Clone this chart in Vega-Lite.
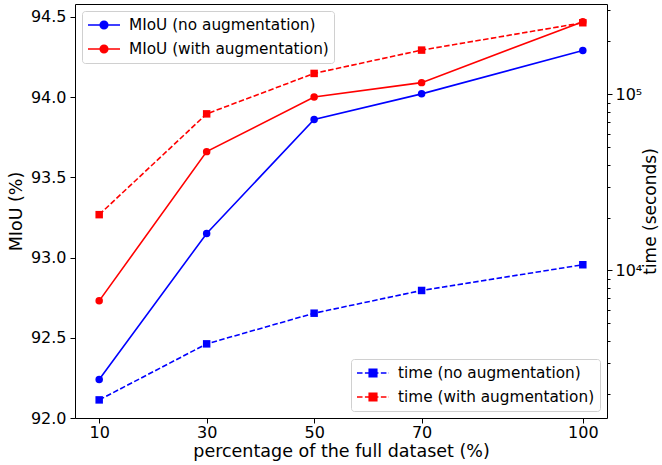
{
  "$schema": "https://vega.github.io/schema/vega-lite/v6.json",
  "width": 532,
  "height": 414,
  "autosize": {"type": "none"},
  "padding": {"left": 75, "top": 4, "right": 55, "bottom": 47},
  "background": "white",
  "config": {
    "view": {"stroke": "black", "strokeWidth": 1},
    "font": "DejaVu Sans",
    "axis": {
      "labelFont": "DejaVu Sans",
      "titleFont": "DejaVu Sans",
      "labelColor": "black",
      "titleColor": "black",
      "tickColor": "black",
      "domain": false,
      "grid": false,
      "labelFontSize": 16,
      "titleFontSize": 17.5,
      "titleFontWeight": "normal",
      "tickSize": 5,
      "tickWidth": 1
    },
    "legend": {"labelFont": "DejaVu Sans", "labelFontSize": 15.3, "labelColor": "black", "labelLimit": 400}
  },
  "datasets": {
    "miou": [
      {"pct": 10, "series": "MIoU (no augmentation)", "miou": 92.24},
      {"pct": 30, "series": "MIoU (no augmentation)", "miou": 93.15},
      {"pct": 50, "series": "MIoU (no augmentation)", "miou": 93.86},
      {"pct": 70, "series": "MIoU (no augmentation)", "miou": 94.02},
      {"pct": 100, "series": "MIoU (no augmentation)", "miou": 94.29},
      {"pct": 10, "series": "MIoU (with augmentation)", "miou": 92.73},
      {"pct": 30, "series": "MIoU (with augmentation)", "miou": 93.66},
      {"pct": 50, "series": "MIoU (with augmentation)", "miou": 94.0},
      {"pct": 70, "series": "MIoU (with augmentation)", "miou": 94.09},
      {"pct": 100, "series": "MIoU (with augmentation)", "miou": 94.47}
    ],
    "time": [
      {"pct": 10, "series": "time (no augmentation)", "seconds": 1840},
      {"pct": 30, "series": "time (no augmentation)", "seconds": 3830},
      {"pct": 50, "series": "time (no augmentation)", "seconds": 5720},
      {"pct": 70, "series": "time (no augmentation)", "seconds": 7700},
      {"pct": 100, "series": "time (no augmentation)", "seconds": 10780},
      {"pct": 10, "series": "time (with augmentation)", "seconds": 20760},
      {"pct": 30, "series": "time (with augmentation)", "seconds": 77600},
      {"pct": 50, "series": "time (with augmentation)", "seconds": 131700},
      {"pct": 70, "series": "time (with augmentation)", "seconds": 178700},
      {"pct": 100, "series": "time (with augmentation)", "seconds": 255600}
    ]
  },
  "layer": [
    {
      "data": {"name": "miou"},
      "mark": {"type": "line", "strokeWidth": 1.6, "point": {"filled": true, "size": 56, "shape": "circle", "opacity": 1}},
      "encoding": {
        "x": {
          "field": "pct", "type": "quantitative",
          "scale": {"domain": [5.5, 104.5], "nice": false, "zero": false},
          "axis": {"values": [10, 30, 50, 70, 100], "title": "percentage of the full dataset (%)", "labelPadding": 1, "titlePadding": 2}
        },
        "y": {
          "field": "miou", "type": "quantitative",
          "scale": {"domain": [92.0, 94.58], "nice": false, "zero": false},
          "axis": {"orient": "left", "values": [92, 92.5, 93, 93.5, 94, 94.5], "format": ".1f", "title": "MIoU (%)", "labelPadding": 4, "titlePadding": 5}
        },
        "color": {
          "field": "series", "type": "nominal",
          "scale": {"domain": ["MIoU (no augmentation)", "MIoU (with augmentation)"], "range": ["blue", "red"]},
          "legend": {
            "title": null,
            "orient": "top-left",
            "offset": 7,
            "symbolType": "M-2,0H2M0.47,0A0.47,0.47 0 1,1 -0.47,0A0.47,0.47 0 1,1 0.47,0Z",
            "symbolSize": 256,
            "symbolStrokeWidth": 1.6,
            "symbolOffset": 8,
            "labelOffset": 16,
            "padding": 5,
            "rowPadding": 6,
            "fillColor": "white",
            "strokeColor": "#d0d0d0",
            "cornerRadius": 3,
            "encode": {
              "symbols": {
                "update": {
                  "fill": {"signal": "indexof(datum.value, '(no') >= 0 ? 'blue' : 'red'"},
                  "stroke": {"signal": "indexof(datum.value, '(no') >= 0 ? 'blue' : 'red'"},
                  "opacity": {"value": 1}
                }
              }
            }
          }
        }
      }
    },
    {
      "data": {"name": "time"},
      "mark": {"type": "line", "strokeWidth": 1.6, "strokeDash": [5.5, 2.4], "point": {"filled": true, "size": 56, "shape": "square", "opacity": 1}},
      "encoding": {
        "x": {"field": "pct", "type": "quantitative"},
        "y": {
          "field": "seconds", "type": "quantitative",
          "scale": {"type": "log", "domain": [1452, 326600], "nice": false, "zero": false},
          "axis": {
            "orient": "right",
            "values": [2000, 3000, 4000, 5000, 6000, 7000, 8000, 9000, 10000, 20000, 30000, 40000, 50000, 60000, 70000, 80000, 90000, 100000, 200000, 300000],
            "labelExpr": "datum.value == 10000 ? '10⁴' : datum.value == 100000 ? '10⁵' : ''",
            "tickSize": {"condition": {"test": "datum.value == 10000 || datum.value == 100000", "value": 5}, "value": 3},
            "labelPadding": 3,
            "title": "time (seconds)",
            "titleAngle": 270,
            "titleBaseline": "top",
            "titleFontSize": 17,
            "titlePadding": 1
          }
        },
        "color": {
          "field": "series", "type": "nominal",
          "scale": {"domain": ["time (no augmentation)", "time (with augmentation)"], "range": ["blue", "red"]},
          "legend": {
            "title": null,
            "orient": "bottom-right",
            "offset": 7,
            "symbolType": "M-2,0H-1.31M-1.01,0H-0.31M-0.01,0H0.68M0.98,0H1.68M1.97,0H2M-0.47,-0.47H0.47V0.47H-0.47Z",
            "symbolSize": 256,
            "symbolStrokeWidth": 1.6,
            "symbolOffset": 8,
            "labelOffset": 16,
            "padding": 5,
            "rowPadding": 6,
            "fillColor": "white",
            "strokeColor": "#d0d0d0",
            "cornerRadius": 3,
            "encode": {
              "symbols": {
                "update": {
                  "fill": {"signal": "indexof(datum.value, '(no') >= 0 ? 'blue' : 'red'"},
                  "stroke": {"signal": "indexof(datum.value, '(no') >= 0 ? 'blue' : 'red'"},
                  "opacity": {"value": 1},
                  "strokeDash": {"value": []}
                }
              }
            }
          }
        }
      }
    }
  ],
  "resolve": {"scale": {"y": "independent", "color": "independent"}}
}
